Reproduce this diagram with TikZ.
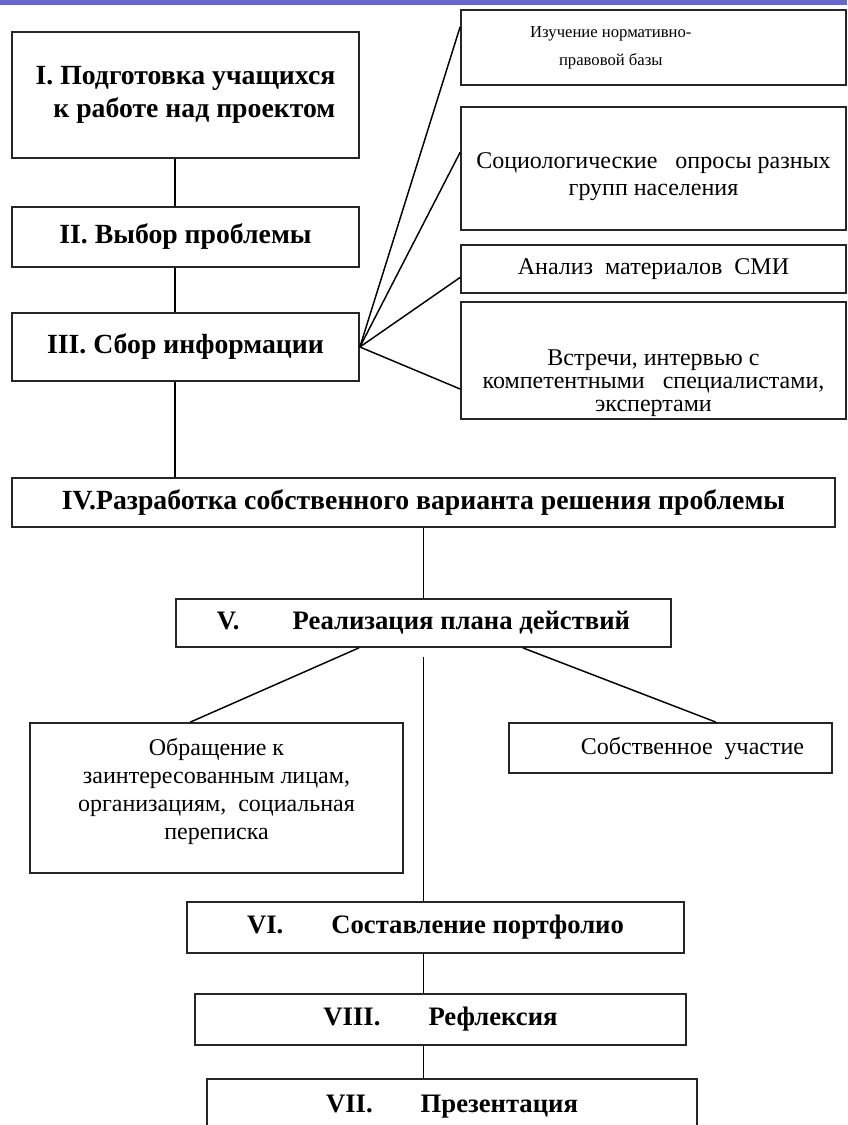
\documentclass[tikz,border=0pt]{standalone}
\usepackage{fontspec}
\setmainfont{Liberation Serif}
\usetikzlibrary{calc}

\definecolor{band}{HTML}{6666CC}

\begin{document}
\begin{tikzpicture}[x=0.75pt, y=-0.75pt,
    stage/.style = {draw=black!85, line width=1.3pt, fill=white, inner sep=0pt, align=center,
                    font=\bfseries\fontsize{20.8}{25}\selectfont},
    lower/.style = {stage, font=\bfseries\fontsize{20}{25}\selectfont},
    note/.style = {draw=black!85, line width=1.3pt, fill=white, inner sep=0pt, align=center,
                   font=\fontsize{18}{20}\selectfont},
    link/.style = {line width=1.1pt}]
        \useasboundingbox (0,0) rectangle (847,1125);
        \fill[band] (0,0) rectangle (847,5);
        %
        \node[stage, align=right, minimum width=260.25pt, minimum height=94.5pt] (s1) at (185.5,95) {I. Подготовка учащихся\\к работе над проектом};
        \node[stage, minimum width=260.25pt, minimum height=45pt] (s2) at (185.5,237) {II. Выбор проблемы};
        \node[stage, minimum width=260.25pt, minimum height=51pt] (s3) at (185.5,347) {III. Сбор информации};
        \node[stage, minimum width=617.25pt, minimum height=36.75pt] (s4) at (423.5,502.5) {IV.Разработка собственного варианта решения проблемы};
        \node[lower, minimum width=371.25pt, minimum height=36pt] (s5) at (423.5,623) {V.\hspace{2em}Реализация плана действий};
        \node[lower, minimum width=372.75pt, minimum height=38.25pt] (s6) at (435.5,927.5) {VI.\hspace{1.8em}Составление портфолио};
        \node[lower, minimum width=368.25pt, minimum height=38.25pt] (s8) at (440.5,1019.5) {VIII.\hspace{1.8em}Рефлексия};
        \node[lower, minimum width=367.5pt, minimum height=42pt] (s7) at (452,1107) {VII.\hspace{1.8em}Презентация};
        %
        \node[note, font=\fontsize{12.5}{21}\selectfont, text height=26.25pt, text depth=0pt, minimum width=288.75pt, minimum height=56.25pt] (c1) at (653.5,47.5) {Изучение нормативно-\hspace*{64pt}\\правовой базы\hspace*{64pt}};
        \node[note, text height=39.8pt, text depth=0pt, minimum width=288.75pt, minimum height=92.25pt] (c2) at (653.5,168.5) {Социологические\ \ \ опросы разных\\групп населения};
        \node[note, minimum width=288.75pt, minimum height=36pt] (c3) at (653.5,269) {Анализ\ \ материалов\ \ СМИ};
        \node[note, font=\fontsize{18}{17}\selectfont, text height=76pt, text depth=0pt, minimum width=288.75pt, minimum height=87.75pt] (c4) at (653.5,360.5) {Встречи, интервью с\\компетентными\ \ \ специалистами,\\экспертами};
        %
        \node[note, font=\fontsize{18}{20.8}\selectfont, text height=61.5pt, text depth=0pt, minimum width=279.75pt, minimum height=112.5pt] (a1) at (216.5,798) {Обращение к\\заинтересованным лицам,\\организациям,\ \ социальная\\переписка};
        \node[note, minimum width=242.25pt, minimum height=37.5pt] (a2) at (670.5,748) {\hspace*{33pt}Собственное\ \ участие};
        %
        \draw[link] ([xshift=-8pt]s1.south) -- ([xshift=-8pt]s2.north);
        \draw[link] ([xshift=-8pt]s2.south) -- ([xshift=-8pt]s3.north);
        \draw[link] ([xshift=-8pt]s3.south) -- ([xshift=-8pt]s3.south |- s4.north);
        \draw[link] (s4.south) -- (s5.north);
        \foreach \n/\f in {c1/0.23, c2/0.37, c3/0.67, c4/0.74}
            \draw[link] (s3.east) -- ($(\n.north west)!\f!(\n.south west)$);
        %
        \draw[link] ($(s5.south west)!0.37!(s5.south east)$) -- ($(a1.north west)!0.43!(a1.north east)$);
        \draw[link] ($(s5.south west)!0.70!(s5.south east)$) -- ($(a2.north west)!0.64!(a2.north east)$);
        \draw[link, shorten <=7pt] (s5.south) -- (s5.south |- s6.north);
        \draw[link] (s6.south -| s5.south) -- (s8.north -| s5.south);
        \draw[link] (s8.south -| s5.south) -- (s7.north -| s5.south);
\end{tikzpicture}
\end{document}
